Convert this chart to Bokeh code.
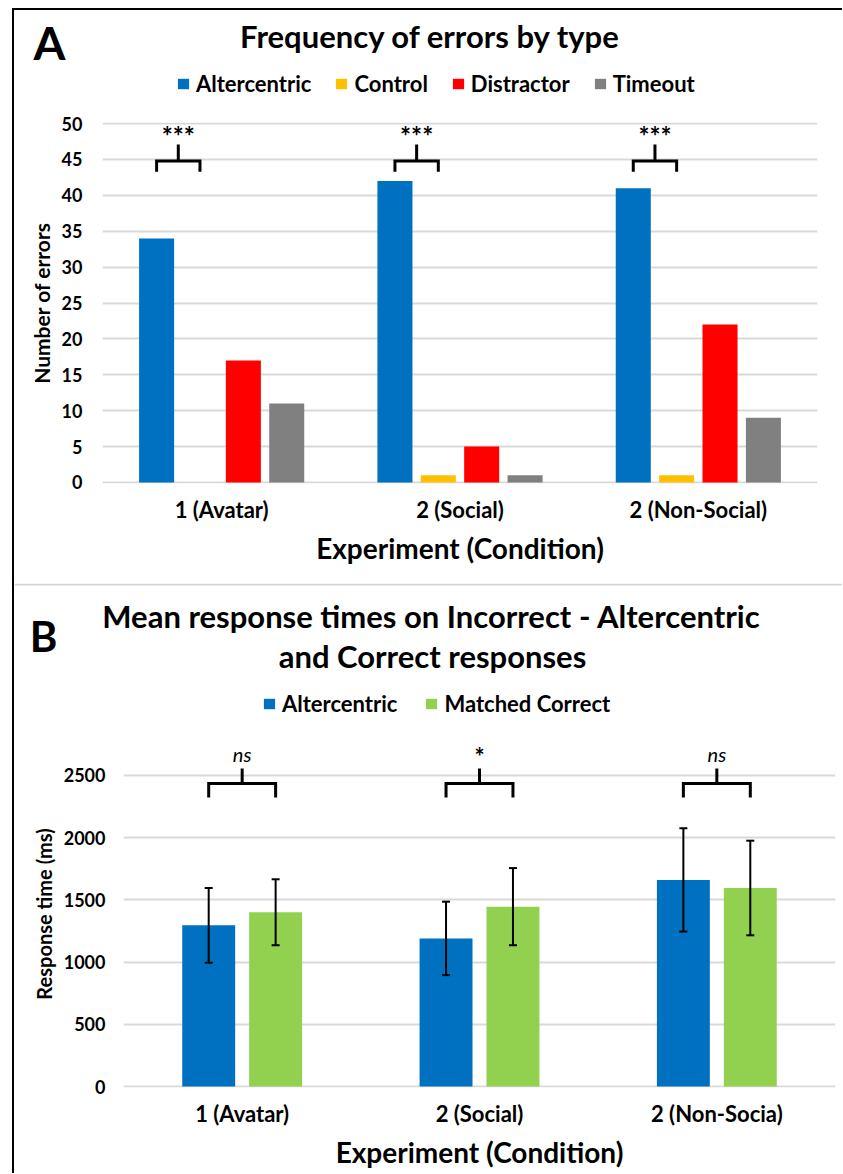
import numpy as np
from bokeh.plotting import figure
from bokeh.models import (ColumnDataSource, Range1d, FixedTicker, Label, Legend, LegendItem,
                          Whisker, TeeHead, BoxAnnotation)
from bokeh.layouts import column
from bokeh.embed import file_html
from bokeh.resources import INLINE
from bokeh.core.properties import value

# ---------------- data: panel A ----------------
conditions_a = ["1 (Avatar)", "2 (Social)", "2 (Non-Social)"]
error_types = ["Altercentric", "Control", "Distractor", "Timeout"]
errors_altercentric = [34, 42, 41]
errors_control = [0, 1, 1]
errors_distractor = [17, 5, 22]
errors_timeout = [11, 1, 9]
sig_a = ["***", "***", "***"]
yticks_a = [0, 5, 10, 15, 20, 25, 30, 35, 40, 45, 50]

# ---------------- data: panel B ----------------
conditions_b = ["1 (Avatar)", "2 (Social)", "2 (Non-Socia)"]
response_types = ["Altercentric", "Matched Correct"]
rt_altercentric = [1295, 1190, 1660]
rt_altercentric_err = [300, 295, 415]
rt_matched = [1400, 1445, 1595]
rt_matched_err = [265, 310, 380]
sig_b = ["ns", "*", "ns"]
yticks_b = [0, 500, 1000, 1500, 2000, 2500]

# ---------------- style ----------------
FONT = "Lato"
colors_a = ["#0070C0", "#FFC000", "#FF0000", "#808080"]
colors_b = ["#0070C0", "#92D050"]
GRID = "#d9d9d9"

W = 828
HEAD_A, PLOT_A = 100, 473
HEAD_B, PLOT_B = 157, 433


def bare_fig(w, h):
    f = figure(width=w, height=h, x_range=Range1d(0, w), y_range=Range1d(h, 0),
               x_axis_type=None, y_axis_type=None, min_border=0,
               output_backend="svg", toolbar_location=None, frame_align=False)
    f.outline_line_color = None
    f.background_fill_color = "white"
    f.border_fill_color = "white"
    f.grid.visible = False
    return f


def add_text(p, x, y, text, size, style="bold"):
    p.add_layout(Label(x=x, y=y, text=text, text_font=FONT, text_font_size=size,
                       text_font_style=style, text_color="black", text_align="center",
                       text_baseline="alphabetic"))


def style_axes(p, yticks, conds, ylabel, ylab_size, ytick_standoff):
    centers = [i + 0.5 for i in range(len(conds))]
    p.xaxis.ticker = FixedTicker(ticks=centers)
    p.xaxis.major_label_overrides = {c: n for c, n in zip(centers, conds)}
    p.yaxis.ticker = FixedTicker(ticks=yticks)
    p.xgrid.grid_line_color = None
    p.ygrid.grid_line_color = GRID
    p.ygrid.grid_line_width = 2
    p.outline_line_color = None
    p.background_fill_color = "white"
    p.border_fill_color = "white"
    for ax in (p.xaxis[0], p.yaxis[0]):
        ax.axis_line_color = None
        ax.major_tick_line_color = None
        ax.minor_tick_line_color = None
        ax.major_tick_out = 0
        ax.major_tick_in = 0
        ax.major_label_text_font = FONT
        ax.major_label_text_font_style = "bold"
        ax.major_label_text_color = "black"
        ax.axis_label_text_font = FONT
        ax.axis_label_text_font_style = "bold"
        ax.axis_label_text_color = "black"
    p.yaxis.major_label_text_font_size = "18px"
    p.yaxis.major_label_standoff = ytick_standoff
    p.yaxis.axis_label = ylabel
    p.yaxis.axis_label_text_font_size = ylab_size
    p.yaxis.axis_label_standoff = 5
    p.xaxis.major_label_text_font_size = "22px"
    p.xaxis.major_label_text_line_height = 1.0
    p.xaxis.major_label_standoff = 12
    p.xaxis.axis_label = "Experiment (Condition)"
    p.xaxis.axis_label_text_font_size = "28px"
    p.xaxis.axis_label_text_line_height = 1.0
    p.xaxis.axis_label_standoff = 5


def legend_for(items, loc, spacing):
    return Legend(items=items, orientation="horizontal", location=loc,
                  glyph_width=14, glyph_height=13, label_standoff=6, spacing=spacing,
                  padding=0, margin=0, border_line_color=None, background_fill_alpha=0,
                  label_text_font=FONT, label_text_font_size="22px",
                  label_text_font_style="bold", label_text_color="black", label_height=25)


def legend_key(p, color):
    # an empty (NaN) renderer that only supplies the legend swatch
    src = ColumnDataSource(dict(x=np.array([np.nan]), top=np.array([np.nan])))
    return p.vbar(x="x", top="top", width=1, source=src, fill_color=color, line_color=None)


# =============== Panel A header ===============
ha = bare_fig(W, HEAD_A)
add_text(ha, 35, 32, "A", "46px")
add_text(ha, 416, 25, "Frequency of errors by type", "31px")

# =============== Panel A plot ===============
pa = figure(width=W, height=PLOT_A, x_range=Range1d(0, 3), y_range=Range1d(-0.15, 50.15),
            output_backend="svg", toolbar_location=None, frame_align=False,
            min_border_left=88, min_border_right=25, min_border_top=12, min_border_bottom=100)
style_axes(pa, yticks_a, conditions_a, "Number of errors", "21px", 20)

centers_a = np.arange(len(conditions_a)) + 0.5
offs_a = [-0.273, -0.091, 0.091, 0.273]
series_a = [errors_altercentric, errors_control, errors_distractor, errors_timeout]
items_a = []
for name, vals, col, off in zip(error_types, series_a, colors_a, offs_a):
    src = ColumnDataSource(dict(x=centers_a + off, top=vals))
    pa.vbar(x="x", top="top", width=0.147, bottom=0, source=src,
            fill_color=col, line_color=None)
    items_a.append(LegendItem(label=name, renderers=[legend_key(ha, col)]))
ha.add_layout(legend_for(items_a, (162, 13.5), 23), "center")

bxl = centers_a + offs_a[0]
bxr = centers_a + offs_a[1]
bxm = (bxl + bxr) / 2
xs, ys = [], []
for l, r, m in zip(bxl, bxr, bxm):
    xs += [[l, l, r, r], [m, m]]
    ys += [[43.3, 44.8, 44.8, 43.3], [44.8, 47.1]]
pa.multi_line(xs=xs, ys=ys, line_width=3, line_color="black", line_join="miter")
pa.text(x=bxm, y=[48.2] * 3, text=sig_a, text_font=value(FONT), text_font_size="26px",
        text_font_style="bold", text_align="center", text_baseline="alphabetic",
        text_color="black")

# =============== Panel B header ===============
hb = bare_fig(W, HEAD_B)
hb.add_layout(BoxAnnotation(left=0, right=W, top=0, bottom=2,
                            fill_color="#d6d6d6", fill_alpha=1, line_color=None))
add_text(hb, 29, 52, "B", "42px")
add_text(hb, 417, 32, "Mean response times on Incorrect - Altercentric", "31px")
add_text(hb, 418, 72, "and Correct responses", "31px")

# =============== Panel B plot ===============
pb = figure(width=W, height=PLOT_B, x_range=Range1d(0, 3), y_range=Range1d(-8, 2780),
            output_backend="svg", toolbar_location=None, frame_align=False,
            min_border_left=109, min_border_right=7, min_border_top=0, min_border_bottom=86)
style_axes(pb, yticks_b, conditions_b, "Response time (ms)", "20px", 18)

centers_b = np.arange(len(conditions_b)) + 0.5
offs_b = [-0.141, 0.141]
series_b = [(rt_altercentric, rt_altercentric_err), (rt_matched, rt_matched_err)]
items_b = []
for name, (vals, errs), col, off in zip(response_types, series_b, colors_b, offs_b):
    vals = np.array(vals)
    errs = np.array(errs)
    src = ColumnDataSource(dict(x=centers_b + off, top=vals, upper=vals + errs, lower=vals - errs))
    pb.vbar(x="x", top="top", width=0.223, bottom=0, source=src,
            fill_color=col, line_color=None)
    pb.add_layout(Whisker(base="x", upper="upper", lower="lower", source=src,
                          line_width=2, line_color="black", level="overlay",
                          upper_head=TeeHead(size=8, line_width=2, line_color="black"),
                          lower_head=TeeHead(size=8, line_width=2, line_color="black")))
    items_b.append(LegendItem(label=name, renderers=[legend_key(hb, col)]))
hb.add_layout(legend_for(items_b, (248, 23.5), 27), "center")

cxl = centers_b + offs_b[0]
cxr = centers_b + offs_b[1]
cxm = (cxl + cxr) / 2
xs, ys = [], []
for l, r, m in zip(cxl, cxr, cxm):
    xs += [[l, l, r, r], [m, m]]
    ys += [[2322, 2434, 2434, 2322], [2434, 2555]]
pb.multi_line(xs=xs, ys=ys, line_width=3, line_color="black", line_join="miter")
sig_style = ["italic" if s == "ns" else "bold" for s in sig_b]
sig_size = ["20px" if s == "ns" else "24px" for s in sig_b]
sig_y = [2672 if s == "ns" else 2650 for s in sig_b]
pb.text(x=cxm, y=sig_y, text=sig_b, text_font=value(FONT), text_font_size=sig_size,
        text_font_style=sig_style, text_align="center", text_baseline="alphabetic",
        text_color="black")

layout = column(ha, pa, hb, pb,
                styles={"border-left": "2px solid black", "border-top": "2px solid black",
                        "margin-left": "12px", "margin-top": "8px"})
open("out.html", "w").write(file_html(layout, INLINE))
